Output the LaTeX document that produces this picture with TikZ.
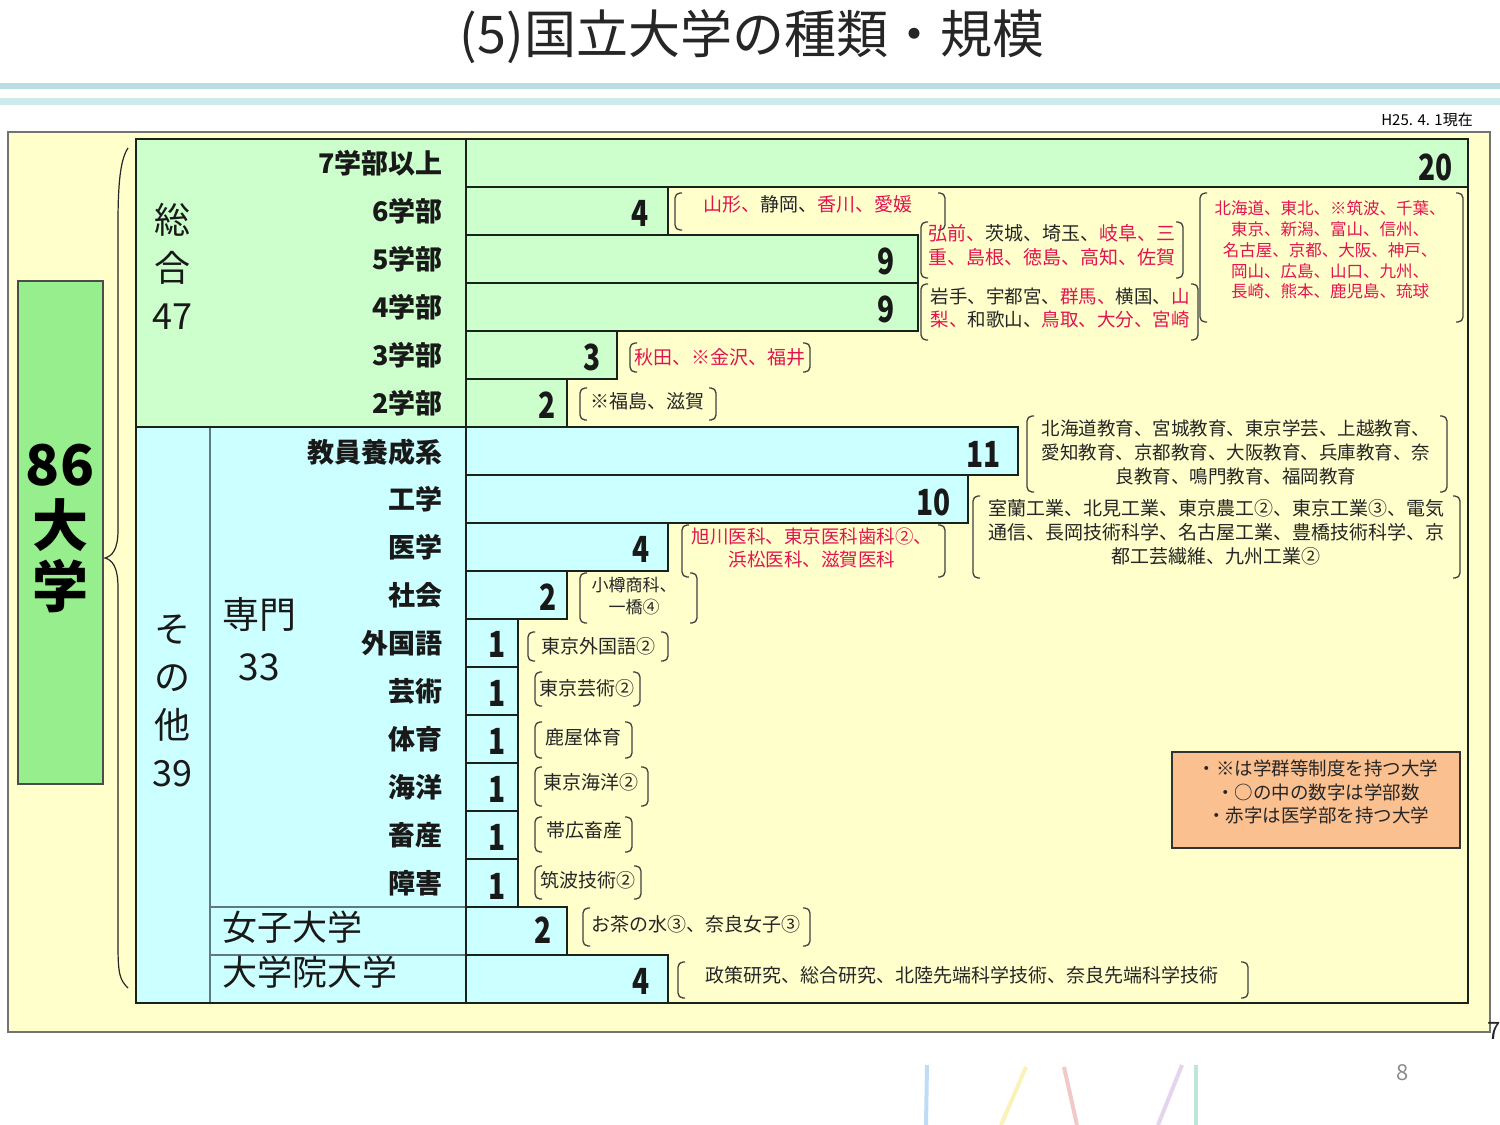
\documentclass[tikz,border=0pt]{standalone}
\usepackage{fontspec}
\setmainfont{Noto Sans CJK JP}
\definecolor{jred}{RGB}{226,20,80}
\definecolor{gfill}{RGB}{204,255,204}
\definecolor{bfill}{RGB}{204,255,255}
\definecolor{yfill}{RGB}{255,255,204}
\definecolor{bigg}{RGB}{150,238,140}
\definecolor{legfill}{RGB}{250,192,144}
\definecolor{barline}{RGB}{25,35,25}
\definecolor{thinline}{RGB}{95,120,130}
\definecolor{topband}{RGB}{185,222,226}
\definecolor{topband2}{RGB}{205,234,236}
\newcommand\rd[1]{\textcolor{jred}{#1}}
\newcommand\fs[2]{\fontsize{#1}{#2}\selectfont}
\newcommand\nm[1]{\scalebox{0.78}[1]{#1}}
\newcommand\bkt[4]{%
  \draw[bk] (#1+7,#2) -- (#1,#2) -- (#1,#4) -- (#1+7,#4);
  \draw[bk] (#3-7,#2) -- (#3,#2) -- (#3,#4) -- (#3-7,#4);}
\begin{document}
\begin{tikzpicture}[x=1pt,y=-1pt,
  bar/.style={draw=barline, line width=1.8pt},
  gbar/.style={bar, fill=gfill},
  bbar/.style={bar, fill=bfill},
  num/.style={anchor=east, inner sep=0pt, font=\fs{36}{36}\bfseries, text=black!90},
  rowlab/.style={anchor=east, inner sep=0pt, font=\fs{27}{27}\bfseries, text=black!90},
  lst/.style={align=center, inner sep=0pt, font=\fs{19}{24}, text=black!85},
  bk/.style={draw=black!75, line width=1.3pt, rounded corners=5pt},
  big/.style={align=center, inner sep=0pt, font=\fs{36}{48}, text=black!90}]
\useasboundingbox (0,0) rectangle (1500,1125);
\fill[white] (0,0) rectangle (1500,1125);
% top bands
\draw[topband, line width=6pt] (0,86) -- (1500,86);
\draw[topband2, line width=7pt] (0,101) -- (1500,101);
% title
\node[inner sep=0pt, font=\fs{52}{52}, text=black!85] (title) at (752,37) {(5)国立大学の種類・規模};
\node[anchor=east, inner sep=0pt, font=\fs{15}{15}] (date) at (1473,120) {H25. 4. 1現在};
% outer yellow box
\draw[draw=black!55, line width=1.5pt, fill=yfill] (8,132) rectangle (1490,1032);
% 86 box
\node[draw=black!70, line width=1.2pt, fill=bigg, minimum width=85pt, minimum height=503pt, inner sep=0pt] (univbox) at (60.5,532.5) {};
\node[inner sep=0pt, align=center, font=\fs{56}{61}\bfseries] (univ) at (60,528) {86\\大\\学};
% brace
\draw[black!85, line width=1.2pt] (128,148) .. controls (120,160) and (118,185) .. (118,225) -- (118,530)
  .. controls (118,550) and (112,556) .. (105,558) .. controls (112,560) and (118,566) .. (118,588)
  -- (118,945) .. controls (118,975) and (120,980) .. (128,988);
% label areas
\fill[gfill] (136,139) rectangle (466,427);
\fill[bfill] (136,427) rectangle (466,1003);
\draw[thinline, line width=1.5pt] (210,427) -- (210,1003);
\draw[thinline, line width=1.5pt] (210,907) -- (466,907);
\draw[thinline, line width=1.5pt] (210,955) -- (466,955);
\draw[barline, line width=2.2pt] (136,427) -- (466,427);
% bars green
\draw[gbar] (466,139) rectangle (1468,187);
\draw[gbar] (466,187) rectangle (668,235);
\draw[gbar] (466,235) rectangle (918,283);
\draw[gbar] (466,283) rectangle (918,331);
\draw[gbar] (466,331) rectangle (617,379);
\draw[gbar] (466,379) rectangle (567,427);
% bars blue
\draw[bbar] (466,427) rectangle (1018,475);
\draw[bbar] (466,475) rectangle (968,523);
\draw[bbar] (466,523) rectangle (668,571);
\draw[bbar] (466,571) rectangle (567,619);
\draw[bbar] (466,619) rectangle (518,667);
\draw[bbar] (466,667) rectangle (518,715);
\draw[bbar] (466,715) rectangle (518,763);
\draw[bbar] (466,763) rectangle (518,811);
\draw[bbar] (466,811) rectangle (518,859);
\draw[bbar] (466,859) rectangle (518,907);
\draw[bbar] (466,907) rectangle (567,955);
\draw[bbar] (466,955) rectangle (668,1003);
% chart frame
\draw[barline, line width=2pt] (136,139) rectangle (1468,1003);
\draw[barline, line width=2pt] (466,139) -- (466,1003);
% numbers
\node[num] (n1) at (1453,167) {\nm{20}};
\node[num] (n2) at (649,213) {\nm{4}};
\node[num] (n3) at (895,261) {\nm{9}};
\node[num] (n4) at (895,309) {\nm{9}};
\node[num] (n5) at (601,357) {\nm{3}};
\node[num] (n6) at (556,405) {\nm{2}};
\node[num] (n7) at (1001,454) {\nm{11}};
\node[num] (n8) at (951,502) {\nm{10}};
\node[num] (n9) at (650,549) {\nm{4}};
\node[num] (n10) at (557,597) {\nm{2}};
\node[num] (n11) at (506,644) {\nm{1}};
\node[num] (n12) at (506,693) {\nm{1}};
\node[num] (n13) at (506,741) {\nm{1}};
\node[num] (n14) at (506,789) {\nm{1}};
\node[num] (n15) at (506,837) {\nm{1}};
\node[num] (n16) at (506,886) {\nm{1}};
\node[num] (n17) at (552,930) {\nm{2}};
\node[num] (n18) at (650,981) {\nm{4}};
% row labels
\node[rowlab] (r1) at (443,163) {7学部以上};
\node[rowlab] (r2) at (443,211) {6学部};
\node[rowlab] (r3) at (443,259) {5学部};
\node[rowlab] (r4) at (443,307) {4学部};
\node[rowlab] (r5) at (443,355) {3学部};
\node[rowlab] (r6) at (443,403) {2学部};
\node[rowlab] (r7) at (443,452) {教員養成系};
\node[rowlab] (r8) at (443,499) {工学};
\node[rowlab] (r9) at (443,547) {医学};
\node[rowlab] (r10) at (443,595) {社会};
\node[rowlab] (r11) at (443,643) {外国語};
\node[rowlab] (r12) at (443,691) {芸術};
\node[rowlab] (r13) at (443,739) {体育};
\node[rowlab] (r14) at (443,787) {海洋};
\node[rowlab] (r15) at (443,835) {畜産};
\node[rowlab] (r16) at (443,883) {障害};
% group labels
\node[big] (sogo) at (172,266) {総\\合\\47};
\node[big] (sonota) at (172,701) {そ\\の\\他\\39};
\node[big, font=\fs{37}{52}] (senmon) at (259,639) {専門\\33};
\node[anchor=west, inner sep=0pt, font=\fs{35}{35}, text=black!90] (joshi) at (222,927) {女子大学};
\node[anchor=west, inner sep=0pt, font=\fs{35}{35}, text=black!90] (inuniv) at (222,972) {大学院大学};
% university lists
\bkt{675}{193}{945}{230}
\node[lst] (l6) at (808,204) {\rd{山形、}静岡、\rd{香川、愛媛}};
\bkt{921}{222}{1183}{278}
\node[lst] (l5) at (1052,245) {\rd{弘前、}茨城、埼玉、\rd{岐阜、三}\\\rd{重、島根、徳島、高知、佐賀}};
\bkt{921}{284}{1198}{340}
\node[lst, font=\fs{18.5}{24}] (l4) at (1060,308) {岩手、宇都宮、\rd{群馬、}横国、\rd{山}\\\rd{梨、}和歌山、\rd{鳥取、大分、宮崎}};
\bkt{1200}{193}{1463}{322}
\node[lst, font=\fs{16.5}{20.8}, text=jred] (l7) at (1330,250) {北海道、東北、※筑波、千葉、\\東京、新潟、富山、信州、\\名古屋、京都、大阪、神戸、\\岡山、広島、山口、九州、\\長崎、熊本、鹿児島、琉球};
\bkt{630}{343}{810}{372}
\node[lst, text=jred] (l3) at (720,357) {秋田、※金沢、福井};
\bkt{580}{388}{716}{420}
\node[lst] (l2) at (647,401) {※福島、滋賀};
\bkt{1027}{416}{1447}{492}
\node[lst, font=\fs{18.5}{24}] (lkyoin) at (1236,452) {北海道教育、宮城教育、東京学芸、上越教育、\\愛知教育、京都教育、大阪教育、兵庫教育、奈\\良教育、鳴門教育、福岡教育};
\bkt{973}{496}{1460}{578}
\node[lst] (lkogaku) at (1216,532) {室蘭工業、北見工業、東京農工②、東京工業③、電気\\通信、長岡技術科学、名古屋工業、豊橋技術科学、京\\都工芸繊維、九州工業②};
\bkt{682}{525}{945}{577}
\node[lst, font=\fs{18.5}{23}, text=jred] (ligaku) at (812,548) {旭川医科、東京医科歯科②、\\浜松医科、滋賀医科};
\bkt{580}{573}{697}{623}
\node[lst, font=\fs{17}{22}] (lshakai) at (634,596) {小樽商科、\\一橋④};
\bkt{528}{632}{668}{661}
\node[lst] (lgaikoku) at (598,646) {東京外国語②};
\bkt{535}{672}{640}{706}
\node[lst] (lgeijutsu) at (587,688) {東京芸術②};
\bkt{535}{722}{632}{758}
\node[lst] (ltaiiku) at (583,737) {鹿屋体育};
\bkt{535}{767}{648}{806}
\node[lst] (lkaiyo) at (591,782) {東京海洋②};
\bkt{535}{817}{632}{852}
\node[lst] (lchikusan) at (584,830) {帯広畜産};
\bkt{535}{866}{641}{899}
\node[lst] (lshogai) at (588,880) {筑波技術②};
\bkt{583}{908}{810}{946}
\node[lst] (ljoshi) at (696,924) {お茶の水③、奈良女子③};
\bkt{678}{962}{1248}{998}
\node[lst] (lin) at (962,975) {政策研究、総合研究、北陸先端科学技術、奈良先端科学技術};
% legend
\node[draw=black!80, line width=1.5pt, fill=legfill, minimum width=288pt, minimum height=96pt, inner sep=0pt] (legbox) at (1316,800) {};
\node[lst, font=\fs{18.5}{23.5}] (legtext) at (1318,792) {・※は学群等制度を持つ大学\\・○の中の数字は学部数\\・赤字は医学部を持つ大学};
% bottom decoration
\draw[line width=4pt, color={rgb,255:red,190;green,220;blue,245}] (927,1065) -- (926,1125);
\draw[line width=4pt, color={rgb,255:red,250;green,242;blue,185}] (1026,1067) -- (1001,1125);
\draw[line width=4pt, color={rgb,255:red,242;green,200;blue,200}] (1064,1067) -- (1077,1125);
\draw[line width=4pt, color={rgb,255:red,228;green,212;blue,238}] (1182,1065) -- (1158,1125);
\draw[line width=4pt, color={rgb,255:red,190;green,230;blue,215}] (1196,1065) -- (1196,1125);
\node[inner sep=0pt, font=\fs{22}{22}, text=black!45] (pg8) at (1403,1073) {8};
\node[inner sep=0pt, font=\fs{24}{24}, text=black!85] (pg7) at (1494,1031) {7};
\end{tikzpicture}
\end{document}
